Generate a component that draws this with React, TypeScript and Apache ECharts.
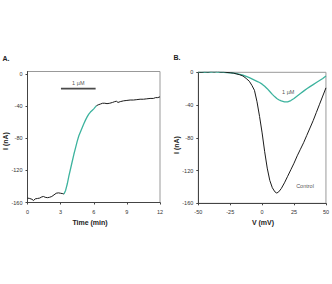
import React, { useEffect, useRef } from "react";
import * as echarts from "echarts";

// Panel A: current vs time, before / during / after 1 µM application
const timeBefore = [0, 0.2, 0.4, 0.55, 0.7, 0.9, 1.1, 1.3, 1.45, 1.6, 1.8, 2.0, 2.2, 2.4, 2.6, 2.8, 3.0, 3.2, 3.3];
const currentBefore = [-154.5, -155, -156, -157.5, -155.5, -155, -154.5, -153, -152.5, -153.5, -154, -153.5, -152.5, -150.5, -148.5, -148, -148.5, -149, -149.5];

const timeDrug = [3.3, 3.45, 3.6, 3.75, 3.9, 4.05, 4.2, 4.35, 4.5, 4.65, 4.8, 4.95, 5.1, 5.25, 5.4, 5.55, 5.7, 5.85, 6.0, 6.15, 6.25];
const currentDrug = [-149.5, -145, -137, -127, -118, -109, -100, -92, -84, -77, -72, -67, -62, -57.5, -53.5, -50, -47.5, -45.5, -43.5, -41, -39.5];

const timeAfter = [6.25, 6.4, 6.6, 6.8, 7.0, 7.2, 7.45, 7.7, 7.9, 8.05, 8.2, 8.4, 8.7, 9.0, 9.3, 9.6, 9.9, 10.2, 10.5, 10.8, 11.1, 11.4, 11.6, 11.8, 12.0];
const currentAfter = [-39.5, -38.5, -37.5, -36.5, -36.5, -37, -36.5, -35.5, -34.5, -34, -35.5, -34.5, -33.5, -33, -32.5, -32.5, -32, -31.5, -31.5, -31, -30.5, -30.5, -29.5, -29.5, -28.5];

// application bar (start, end time) and its level
const barTimes = [3.03, 6.17];
const barLevel = -18.3;

// Panel B: current-voltage relations
const voltage = [-50, -47.5, -45, -42.5, -40, -37.5, -35, -32.5, -30, -27.5, -25, -22.5, -20, -17.5, -15, -12.5, -10, -8, -6, -4, -2, 0, 2, 4, 6, 8, 10, 11.5, 13, 15, 17.5, 20, 22.5, 25, 27.5, 30, 32.5, 35, 37.5, 40, 42.5, 45, 47.5, 50];
const controlIV = [0.5, 0, 0.8, 0.3, 1, 0.5, 1.2, 0.3, 0.5, -0.2, -0.5, -1, -2, -3, -4.5, -7.5, -11, -16, -22, -36, -54, -74, -97, -117, -132, -141, -146, -147.5, -146, -142, -135, -127, -119, -111, -102, -94, -86, -77, -68, -59, -49, -39, -29, -19];
const drugIV = [0, 0.5, 0, 0.5, 0.3, 0.8, 0.2, 0.5, 0, -0.3, -0.6, -1, -1.5, -2.5, -3.5, -5, -6.5, -8, -9.5, -11, -12.5, -14.5, -17, -20, -23.5, -27, -30, -32, -33.5, -35, -36, -36, -34.5, -32, -29, -26, -23, -20, -17.5, -15, -12.5, -10, -7.5, -4.5];

const timeTicks = [0, 3, 6, 9, 12];
const currentTicks = [-160, -120, -80, -40, 0];
const voltageTicks = [-50, -25, 0, 25, 50];

const TEAL = "#3db39e";
const INK = "#1c1c1c";
const FONT = "Liberation Sans";

const zip = (xs: number[], ys: number[]) => xs.map((x, i) => [x, ys[i]]);

export default function App() {
  const ref = useRef<HTMLDivElement>(null);

  useEffect(() => {
    if (!ref.current) return;
    const chart = echarts.init(ref.current, null, { renderer: "svg" });

    const axisCommon = {
      axisLine: { show: true, onZero: false, lineStyle: { color: "#444", width: 1 } },
      axisTick: { show: true, length: 2, lineStyle: { color: "#444" } },
      splitLine: { show: false },
    };
    const tickLabel = { fontSize: 5.5, color: "#333", fontFamily: FONT };

    const label = (text: string, x: number, y: number, size: number, bold = false, rotation = 0) => ({
      type: "text",
      x,
      y,
      rotation,
      style: {
        text,
        fontSize: size,
        fontWeight: bold ? "bold" : "normal",
        fontFamily: FONT,
        fill: "#222",
        align: "center",
        verticalAlign: "middle",
      },
    });

    chart.setOption({
      animation: false,
      backgroundColor: "#fff",
      grid: [
        { left: 27.5, top: 71.5, width: 132.5, height: 131, show: true, borderColor: "#999", borderWidth: 1 },
        { left: 198.3, top: 72.3, width: 130, height: 131, show: true, borderColor: "#999", borderWidth: 1 },
      ],
      xAxis: [
        {
          ...axisCommon,
          gridIndex: 0,
          type: "value",
          min: 0,
          max: 12,
          interval: 3,
          axisLabel: { ...tickLabel, margin: 6, customValues: timeTicks },
          axisTick: { ...axisCommon.axisTick, customValues: timeTicks },
        },
        {
          ...axisCommon,
          gridIndex: 1,
          type: "value",
          min: -50,
          max: 50,
          interval: 25,
          axisLabel: { ...tickLabel, margin: 6, customValues: voltageTicks },
          axisTick: { ...axisCommon.axisTick, customValues: voltageTicks },
        },
      ],
      yAxis: [
        {
          ...axisCommon,
          gridIndex: 0,
          type: "value",
          min: -160,
          max: 3,
          interval: 40,
          axisLabel: { ...tickLabel, margin: 5, customValues: currentTicks },
          axisTick: { ...axisCommon.axisTick, customValues: currentTicks },
        },
        {
          ...axisCommon,
          gridIndex: 1,
          type: "value",
          min: -160,
          max: 0,
          interval: 40,
          axisLabel: { ...tickLabel, margin: 5, customValues: currentTicks },
          axisTick: { ...axisCommon.axisTick, customValues: currentTicks },
        },
      ],
      series: [
        {
          type: "line",
          xAxisIndex: 0,
          yAxisIndex: 0,
          data: zip(timeBefore, currentBefore),
          symbol: "none",
          lineStyle: { color: INK, width: 1 },
        },
        {
          type: "line",
          xAxisIndex: 0,
          yAxisIndex: 0,
          data: zip(timeDrug, currentDrug),
          symbol: "none",
          lineStyle: { color: TEAL, width: 1.3 },
        },
        {
          type: "line",
          xAxisIndex: 0,
          yAxisIndex: 0,
          data: zip(timeAfter, currentAfter),
          symbol: "none",
          lineStyle: { color: INK, width: 1 },
        },
        {
          type: "line",
          xAxisIndex: 0,
          yAxisIndex: 0,
          data: barTimes.map((t) => [t, barLevel]),
          symbol: "none",
          lineStyle: { color: "#4a4a4a", width: 1.6 },
        },
        {
          type: "scatter",
          xAxisIndex: 0,
          yAxisIndex: 0,
          symbolSize: 0,
          data: [[(barTimes[0] + barTimes[1]) / 2, barLevel]],
          label: {
            show: true,
            position: "top",
            distance: 3,
            formatter: "1 µM",
            fontSize: 5.5,
            fontFamily: FONT,
            color: "#222",
          },
        },
        {
          type: "line",
          xAxisIndex: 1,
          yAxisIndex: 1,
          data: zip(voltage, drugIV),
          symbol: "none",
          lineStyle: { color: TEAL, width: 1.3 },
        },
        {
          type: "line",
          xAxisIndex: 1,
          yAxisIndex: 1,
          data: zip(voltage, controlIV),
          symbol: "none",
          lineStyle: { color: INK, width: 1 },
        },
        {
          type: "scatter",
          xAxisIndex: 1,
          yAxisIndex: 1,
          symbolSize: 0,
          data: [
            { value: [20.5, -23.7], name: "1 µM" },
            { value: [33.6, -138.8], name: "Control" },
          ],
          label: {
            show: true,
            position: "inside",
            formatter: (p: any) => p.name,
            fontSize: 5.5,
            fontFamily: FONT,
            color: "#222",
          },
        },
      ],
      graphic: [
        label("A.", 6, 58, 7, true),
        label("B.", 177, 57, 7, true),
        label("Time (min)", 90, 222, 7, true),
        label("V (mV)", 263, 222, 7, true),
        label("I (nA)", 5, 141, 7, true, Math.PI / 2),
        label("I (nA)", 176, 145, 7, true, Math.PI / 2),
      ],
    });

    return () => chart.dispose();
  }, []);

  return (
    <div
      ref={ref}
      style={{ position: "fixed", left: 0, top: 0, width: 332, height: 284, background: "#fff" }}
    />
  );
}
